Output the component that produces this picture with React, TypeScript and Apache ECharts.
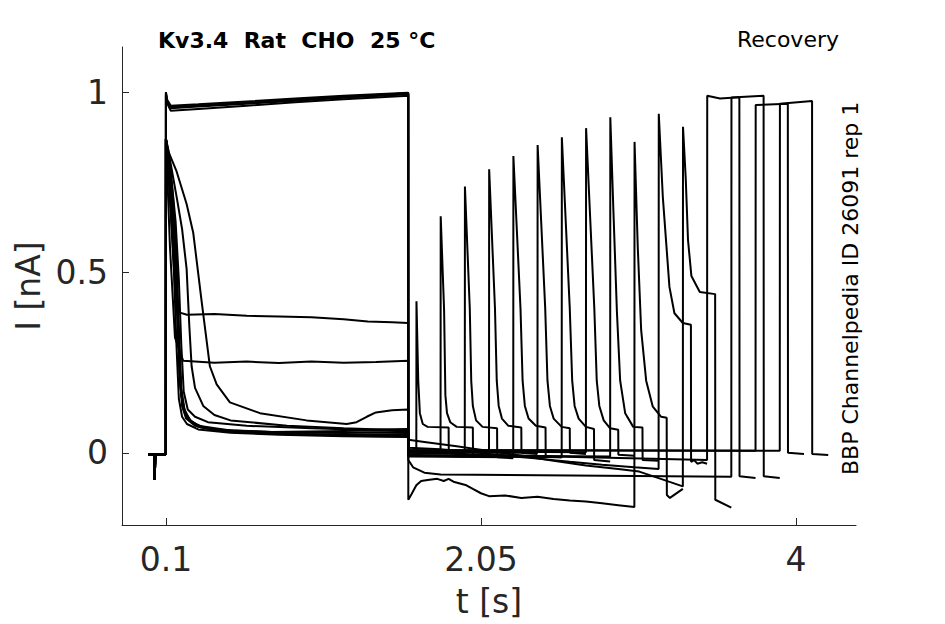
import React, { useEffect, useRef } from "react";
import * as echarts from "echarts";

// ---- axes / texts ----
const X_TICKS = [0.1, 2.05, 4];
const Y_TICKS = [0, 0.5, 1];
const X_MIN = -0.172;
const X_MAX = 4.372;
const Y_MIN = -0.2;
const Y_MAX = 1.125;
const X_NAME = "t [s]";
const Y_NAME = "I [nA]";
const TITLE = "Kv3.4  Rat  CHO  25 °C";
const PROTOCOL = "Recovery";
const SOURCE = "BBP Channelpedia ID 26091 rep 1";

// ---- traces: time [s], current [nA] ----
const leadIn = [[-0.01, -0.004], [0.03, -0.004], [0.031, -0.075], [0.034, -0.004], [0.0995, -0.004]];

const pre01 = [[0.1, 0.87], [0.12, 0.8], [0.14, 0.7], [0.16, 0.56], [0.175, 0.36], [0.19, 0.18], [0.21, 0.12], [0.24, 0.092], [0.3, 0.072], [0.45, 0.06], [0.7, 0.054], [1.0, 0.05], [1.3, 0.047], [1.6, 0.045]];
const pre02 = [[0.1, 0.86], [0.115, 0.78], [0.13, 0.66], [0.15, 0.5], [0.165, 0.3], [0.18, 0.15], [0.2, 0.1], [0.23, 0.08], [0.3, 0.065], [0.5, 0.056], [0.8, 0.05], [1.2, 0.046], [1.6, 0.044]];
const pre03 = [[0.1, 0.87], [0.125, 0.8], [0.145, 0.7], [0.165, 0.55], [0.18, 0.35], [0.195, 0.18], [0.215, 0.12], [0.25, 0.09], [0.32, 0.07], [0.5, 0.058], [0.8, 0.052], [1.1, 0.05], [1.4, 0.048], [1.6, 0.05]];
const pre04 = [[0.1, 0.87], [0.12, 0.79], [0.14, 0.68], [0.16, 0.52], [0.18, 0.3], [0.195, 0.16], [0.22, 0.11], [0.26, 0.085], [0.35, 0.068], [0.6, 0.057], [0.9, 0.052], [1.25, 0.05], [1.6, 0.052]];
const pre05 = [[0.1, 0.86], [0.12, 0.78], [0.135, 0.68], [0.155, 0.54], [0.17, 0.38], [0.185, 0.2], [0.205, 0.125], [0.235, 0.095], [0.3, 0.075], [0.5, 0.062], [0.8, 0.057], [1.2, 0.055], [1.6, 0.057]];
const pre06 = [[0.1, 0.87], [0.118, 0.8], [0.138, 0.7], [0.158, 0.57], [0.172, 0.4], [0.186, 0.22], [0.2, 0.13], [0.225, 0.095], [0.28, 0.075], [0.45, 0.063], [0.75, 0.058], [1.1, 0.06], [1.4, 0.062], [1.6, 0.06]];
const pre07 = [[0.1, 0.87], [0.13, 0.78], [0.16, 0.64], [0.18, 0.48], [0.195, 0.3], [0.21, 0.17], [0.235, 0.12], [0.28, 0.1], [0.36, 0.085], [0.6, 0.075], [1.0, 0.068], [1.3, 0.064], [1.6, 0.066]];
const pre08 = [[0.1, 0.87], [0.13, 0.8], [0.17, 0.7], [0.2, 0.62], [0.228, 0.51], [0.245, 0.35], [0.259, 0.24], [0.28, 0.18], [0.331, 0.13], [0.4, 0.105], [0.5, 0.09], [0.85, 0.075], [1.2, 0.068], [1.6, 0.062]];
const pre09 = [[0.1, 0.87], [0.12, 0.83], [0.166, 0.78], [0.228, 0.69], [0.269, 0.61], [0.321, 0.42], [0.372, 0.24], [0.414, 0.19], [0.496, 0.14], [0.682, 0.11], [0.971, 0.09], [1.219, 0.08], [1.28, 0.085], [1.343, 0.1], [1.4, 0.112], [1.5, 0.118], [1.6, 0.12]];
const pre10 = [[0.1, 0.87], [0.125, 0.57], [0.156, 0.32], [0.187, 0.28], [0.207, 0.255], [0.4, 0.25], [0.6, 0.253], [0.8, 0.249], [1.0, 0.253], [1.2, 0.25], [1.4, 0.252], [1.6, 0.255]];
const pre11 = [[0.1, 0.87], [0.12, 0.75], [0.14, 0.6], [0.156, 0.46], [0.176, 0.39], [0.23, 0.383], [0.4, 0.385], [0.6, 0.38], [0.8, 0.378], [1.0, 0.376], [1.2, 0.37], [1.35, 0.364], [1.5, 0.362], [1.6, 0.36]];
const pre12 = [[0.1, 1.0], [0.106, 0.975], [0.13, 0.955], [0.3, 0.96], [0.6, 0.968], [0.9, 0.976], [1.2, 0.984], [1.6, 0.994]];
const pre13 = [[0.1, 1.0], [0.106, 0.98], [0.13, 0.962], [0.3, 0.966], [0.6, 0.974], [0.9, 0.982], [1.2, 0.99], [1.6, 0.998]];
const pre14 = [[0.1, 0.99], [0.106, 0.97], [0.13, 0.948], [0.3, 0.953], [0.6, 0.962], [0.9, 0.972], [1.2, 0.98], [1.6, 0.99]];
const pre15 = [[0.1, 0.995], [0.106, 0.975], [0.13, 0.958], [0.3, 0.962], [0.6, 0.97], [0.9, 0.978], [1.2, 0.987], [1.6, 0.997]];

const post01 = [[1.6005, 0.0], [1.65, 0.0], [1.651, 0.42], [1.662, 0.2], [1.672, 0.11], [1.69, 0.08], [1.72, 0.072], [1.85, 0.07], [1.851, 0.0], [1.95, -0.004]];
const post02 = [[1.6005, 0.005], [1.8, 0.003], [1.801, 0.656], [1.822, 0.396], [1.83, 0.16], [1.84, 0.11], [1.86, 0.085], [1.9, 0.072], [2.0, 0.07], [2.001, -0.005], [2.1, -0.008]];
const post03 = [[1.6005, -0.005], [1.95, -0.01], [1.951, 0.738], [1.981, 0.4], [1.99, 0.2], [2.0, 0.13], [2.02, 0.09], [2.06, 0.072], [2.15, 0.068], [2.151, -0.012], [2.25, -0.015]];
const post04 = [[1.6005, 0.004], [2.1, 0.005], [2.101, 0.786], [2.137, 0.4], [2.148, 0.2], [2.16, 0.13], [2.18, 0.095], [2.22, 0.075], [2.3, 0.07], [2.301, 0.0], [2.4, -0.003]];
const post05 = [[1.6005, -0.01], [2.25, -0.012], [2.251, 0.823], [2.295, 0.4], [2.308, 0.2], [2.322, 0.13], [2.345, 0.095], [2.39, 0.075], [2.45, 0.07], [2.451, -0.01], [2.55, -0.012]];
const post06 = [[1.6005, 0.002], [2.4, 0.0], [2.401, 0.853], [2.448, 0.4], [2.462, 0.2], [2.477, 0.13], [2.5, 0.095], [2.55, 0.072], [2.6, 0.068], [2.601, 0.0], [2.7, -0.003]];
const post07 = [[1.6005, -0.008], [2.55, -0.012], [2.551, 0.875], [2.6, 0.4], [2.615, 0.2], [2.63, 0.13], [2.655, 0.095], [2.7, 0.072], [2.75, 0.066], [2.751, -0.02], [2.85, -0.024]];
const post08 = [[1.6005, 0.004], [2.7, 0.002], [2.701, 0.9], [2.752, 0.4], [2.767, 0.2], [2.783, 0.13], [2.81, 0.09], [2.85, 0.068], [2.9, 0.064], [2.901, -0.005], [3.0, -0.008]];
const post09 = [[1.6005, -0.006], [2.85, -0.01], [2.851, 0.93], [2.871, 0.66], [2.892, 0.39], [2.912, 0.2], [2.943, 0.11], [2.993, 0.072], [3.05, 0.07], [3.051, -0.02], [3.15, -0.022]];
const post10 = [[1.6005, -0.13], [1.62, -0.115], [1.65, -0.09], [1.68, -0.078], [1.72, -0.075], [1.78, -0.072], [1.82, -0.078], [1.85, -0.072], [1.88, -0.08], [1.92, -0.085], [1.96, -0.09], [2.0, -0.1], [2.05, -0.112], [2.1, -0.12], [2.2, -0.118], [2.3, -0.125], [2.4, -0.122], [2.5, -0.128], [2.6, -0.132], [2.7, -0.135], [2.8, -0.14], [2.9, -0.145], [3.0, -0.15], [3.001, 0.862], [3.021, 0.57], [3.042, 0.34], [3.073, 0.2], [3.114, 0.128], [3.166, 0.1], [3.2, 0.097], [3.201, -0.117], [3.22, -0.125], [3.3, -0.1]];
const post11 = [[1.6005, 0.014], [1.8, 0.01], [2.0, 0.002], [2.2, -0.008], [2.4, -0.016], [2.6, -0.025], [2.8, -0.033], [3.0, -0.04], [3.15, -0.045], [3.151, 0.94], [3.176, 0.71], [3.217, 0.46], [3.248, 0.387], [3.3, 0.36], [3.35, 0.355], [3.351, -0.025], [3.37, -0.02], [3.39, -0.03], [3.42, -0.026], [3.45, -0.03]];
const post12 = [[1.6005, 0.036], [1.7, 0.03], [1.9, 0.018], [2.1, 0.005], [2.3, -0.008], [2.5, -0.022], [2.7, -0.035], [2.9, -0.045], [3.03, -0.052], [3.15, -0.07], [3.3, -0.093], [3.301, 0.904], [3.318, 0.76], [3.332, 0.59], [3.353, 0.49], [3.405, 0.446], [3.5, 0.44], [3.501, -0.13], [3.6, -0.152]];
const post13 = [[1.6005, 0.0], [2.5, -0.01], [3.45, -0.02], [3.451, 0.99], [3.53, 0.982], [3.65, 0.986], [3.651, -0.065], [3.75, -0.07]];
const post14 = [[1.6005, -0.02], [1.63, -0.04], [1.7, -0.055], [1.8, -0.06], [3.6, -0.066], [3.601, 0.985], [3.8, 0.99], [3.801, -0.065], [3.9, -0.07]];
const post15 = [[1.6005, 0.008], [3.75, 0.006], [3.751, 0.964], [3.95, 0.968], [3.951, 0.0], [4.05, -0.003]];
const post16 = [[1.6005, 0.008], [3.9, 0.006], [3.901, 0.968], [4.1, 0.975], [4.101, -0.003], [4.2, -0.006]];

const PREPULSES = [pre01, pre02, pre03, pre04, pre05, pre06, pre07, pre08, pre09, pre10, pre11, pre12, pre13, pre14, pre15];
const POSTS = [post01, post02, post03, post04, post05, post06, post07, post08, post09, post10, post11, post12, post13, post14, post15, post16];
// trace index -> prepulse shape used (16 traces, 15 prepulse shapes)
const TRACE_PRE = [0, 1, 2, 3, 4, 5, 6, 7, 8, 9, 10, 11, 12, 13, 14, 14];

const FONT = "'DejaVu Sans', 'Liberation Sans', sans-serif";
const AXIS_COLOR = "#262626";

function buildOption() {
  const series = POSTS.map((post, i) => ({
    type: "line",
    data: [...leadIn, ...PREPULSES[TRACE_PRE[i]], ...post],
    showSymbol: false,
    symbol: "none",
    silent: true,
    clip: true,
    lineStyle: { color: "#000", width: 2 },
  }));
  return {
    animation: false,
    backgroundColor: "#fff",
    grid: { left: 122, right: 89, top: 47, bottom: 99, outerBoundsMode: "none" },
    xAxis: {
      type: "value",
      min: X_MIN,
      max: X_MAX,
      name: X_NAME,
      nameLocation: "middle",
      nameGap: 60,
      nameTextStyle: { fontSize: 33, fontFamily: FONT, color: AXIS_COLOR },
      axisLine: { show: true, onZero: false, lineStyle: { color: AXIS_COLOR, width: 1 } },
      axisTick: { show: true, inside: true, length: 7, customValues: X_TICKS, lineStyle: { color: AXIS_COLOR } },
      axisLabel: {
        customValues: X_TICKS,
        fontSize: 33,
        fontFamily: FONT,
        color: AXIS_COLOR,
        margin: 18,
        formatter: (v: number) => String(v),
      },
      splitLine: { show: false },
    },
    yAxis: {
      type: "value",
      min: Y_MIN,
      max: Y_MAX,
      name: Y_NAME,
      nameLocation: "middle",
      nameGap: 76,
      nameTextStyle: { fontSize: 33, fontFamily: FONT, color: AXIS_COLOR },
      axisLine: { show: true, onZero: false, lineStyle: { color: AXIS_COLOR, width: 1 } },
      axisTick: { show: true, inside: true, length: 7, customValues: Y_TICKS, lineStyle: { color: AXIS_COLOR } },
      axisLabel: {
        customValues: Y_TICKS,
        fontSize: 33,
        fontFamily: FONT,
        color: AXIS_COLOR,
        margin: 14,
        formatter: (v: number) => String(v),
      },
      splitLine: { show: false },
    },
    graphic: [
      {
        type: "text",
        x: 158,
        y: 40,
        style: {
          text: TITLE,
          fontSize: 22,
          fontWeight: "bold",
          fontFamily: FONT,
          fill: "#000",
          align: "left",
          verticalAlign: "middle",
          textAlign: "left",
          textVerticalAlign: "middle",
        },
      },
      {
        type: "text",
        x: 839,
        y: 39,
        style: {
          text: PROTOCOL,
          fontSize: 22,
          fontFamily: FONT,
          fill: "#000",
          align: "right",
          verticalAlign: "middle",
          textAlign: "right",
          textVerticalAlign: "middle",
        },
      },
      {
        type: "text",
        x: 850,
        y: 475,
        rotation: Math.PI / 2,
        style: {
          text: SOURCE,
          fontSize: 22,
          fontFamily: FONT,
          fill: "#000",
          align: "left",
          verticalAlign: "middle",
          textAlign: "left",
          textVerticalAlign: "middle",
        },
      },
    ],
    series,
  };
}

export default function App() {
  const ref = useRef<HTMLDivElement>(null);
  useEffect(() => {
    document.body.style.margin = "0";
    const chart = echarts.init(ref.current as HTMLDivElement, null, { renderer: "svg" });
    chart.setOption(buildOption() as any);
    return () => chart.dispose();
  }, []);
  return <div ref={ref} style={{ width: 945, height: 624 }} />;
}
